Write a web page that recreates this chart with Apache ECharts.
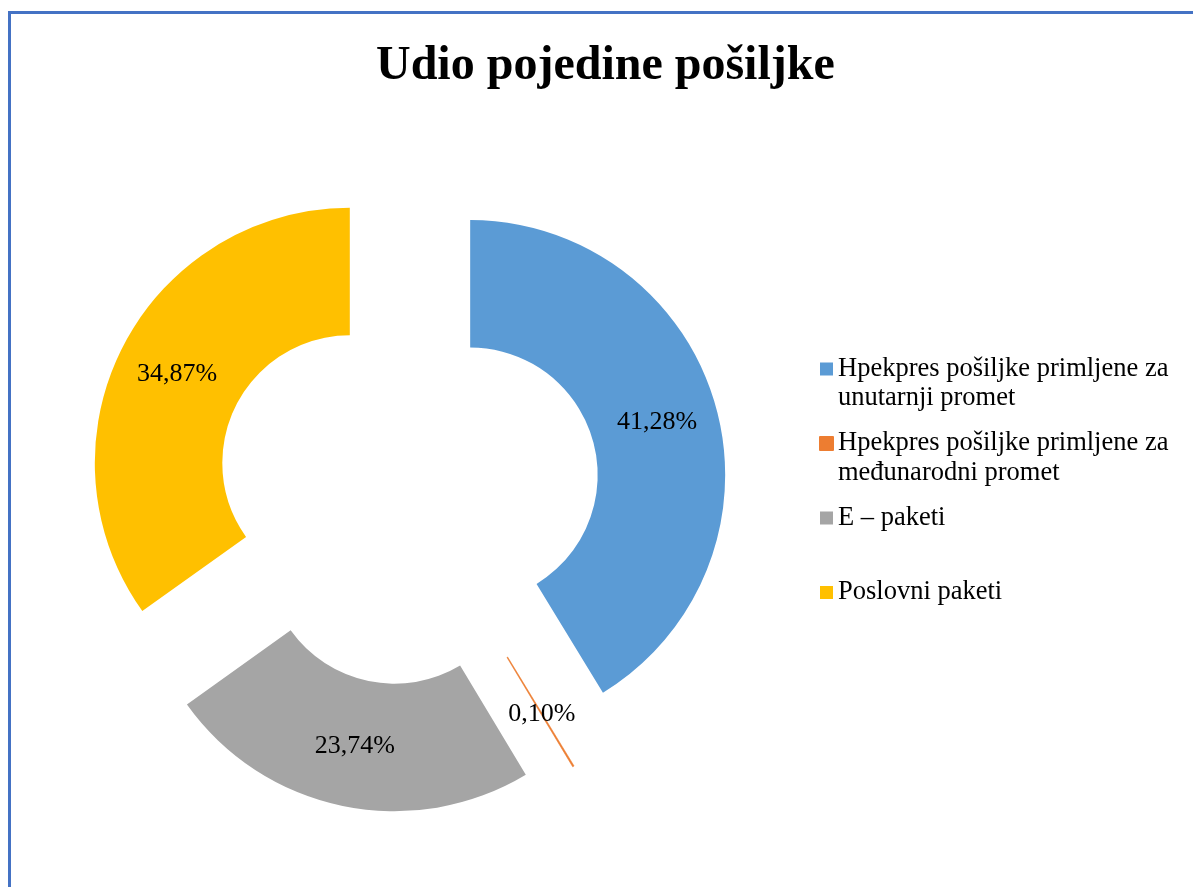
<!DOCTYPE html>
<html>
<head>
<meta charset="utf-8">
<script src="https://cdn.jsdelivr.net/npm/echarts@6/dist/echarts.min.js"></script>
<style>
  html, body { margin: 0; padding: 0; background: #fff; overflow: hidden; }
  #frame { position: absolute; left: 8px; top: 11px; width: 3000px; height: 3000px;
           border-top: 3px solid #4472C4; border-left: 3px solid #4472C4; pointer-events: none; }
  #chart { position: absolute; left: 0; top: 0; width: 1193px; height: 887px; }
</style>
</head>
<body>
<div id="frame"></div>
<div id="chart"></div>
<script>
const titleText = 'Udio pojedine pošiljke';
const categories = [
  'Hpekpres pošiljke primljene za unutarnji promet',
  'Hpekpres pošiljke primljene za međunarodni promet',
  'E – paketi',
  'Poslovni paketi'
];
const shares = [41.28, 0.10, 23.74, 34.87];
const colors = ['#5B9BD5', '#ED7D31', '#A5A5A5', '#FFC000'];

const FONT = 'Liberation Serif, Times New Roman, serif';
const LH = 29.5;

const chart = echarts.init(document.getElementById('chart'), null, { renderer: 'canvas' });

function wrapName(name) {
  const i = name.indexOf(' za ');
  if (i < 0) return [name];
  return [name.slice(0, i + 3), name.slice(i + 4)];
}

chart.setOption({
  backgroundColor: 'transparent',
  animation: false,
  title: {
    text: titleText,
    left: 376,
    top: 43,
    padding: 0,
    textStyle: { fontFamily: FONT, fontSize: 48, fontWeight: 'bold', color: '#000' }
  },
  legend: {
    orient: 'vertical',
    left: 819,
    top: 326,
    padding: 0,
    itemWidth: 13,
    itemHeight: 13,
    itemGap: 77 - 3 * LH,
    icon: 'rect',
    selectedMode: false,
    data: categories,
    formatter: function (name) {
      const lines = wrapName(name);
      const l2 = lines.length > 1 ? '{t|' + lines[1] + '}' : '{s| }';
      return '{s| }\n{t|' + lines[0] + '}\n' + l2;
    },
    textStyle: {
      fontFamily: FONT, fontSize: 26.5, color: '#000',
      rich: {
        t: { fontFamily: FONT, fontSize: 26.5, lineHeight: LH, color: '#000' },
        s: { fontFamily: FONT, fontSize: 26.5, lineHeight: LH, color: '#000' }
      }
    }
  },
  series: [{
    type: 'pie',
    center: [407.6, 492.6],
    radius: [127.5, 255],
    startAngle: 90,
    clockwise: true,
    selectedMode: 'multiple',
    selectedOffset: 65,
    avoidLabelOverlap: false,
    emphasis: { disabled: true },
    label: {
      show: true,
      position: 'inside',
      fontFamily: FONT,
      fontSize: 26,
      color: '#000',
      formatter: function (p) { return p.value.toFixed(2).replace('.', ',') + '%'; }
    },
    labelLine: { show: false },
    data: categories.map(function (c, i) {
      return {
        name: c,
        value: shares[i],
        selected: true,
        itemStyle: {
          color: colors[i],
          borderWidth: i === 1 ? 0.6 : 0,
          borderColor: colors[i]
        }
      };
    })
  }]
});
</script>
</body>
</html>
